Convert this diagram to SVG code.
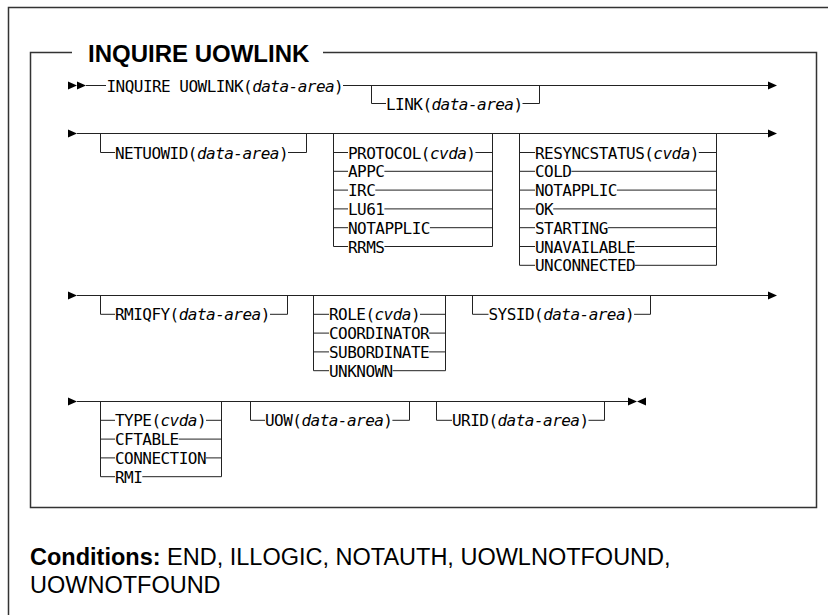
<svg xmlns="http://www.w3.org/2000/svg" width="828" height="615" viewBox="0 0 828 615">
<style>
.m{font-family:"DejaVu Sans Mono",monospace;font-size:16px;letter-spacing:-0.53px;fill:#000}
.i{font-style:italic}
.ln{fill:none;stroke:#222;stroke-width:1}
.ah{fill:#000;stroke:none}
.frame{fill:none;stroke:#333;stroke-width:1.5}
.title{font-family:"Liberation Sans",Arial,sans-serif;font-weight:bold;font-size:24px;fill:#000}
.cond{font-family:"Liberation Sans",Arial,sans-serif;font-size:23.5px;fill:#000}
</style>
<defs>
<polygon id="ar" class="ah" points="0,-4 9,0 0,4"/>
<polygon id="al" class="ah" points="9,-4 0,0 9,4"/>
</defs>
<rect width="828" height="615" fill="#fff"/>
<path class="frame" d="M8.5,615 V7.5 H828"/>
<path class="frame" d="M72,52.5 H30.5 V507.5 H816.5 V52.5 H323"/>
<text class="title" x="88" y="61.5">INQUIRE UOWLINK</text>

<g id="connectors">
<!-- row 1 -->
<use href="#ar" x="68" y="85.5"/><use href="#ar" x="77" y="85.5"/>
<path class="ln" d="M86,85.5 H106"/>
<path class="ln" d="M343,85.5 H768"/>
<use href="#ar" x="768" y="85.5"/>
<path class="ln" d="M371.5,85.5 V103.5 H386"/>
<path class="ln" d="M522.5,103.5 H539.5 V85.5"/>
<!-- row 2 -->
<use href="#ar" x="68" y="133.5"/>
<path class="ln" d="M77,133.5 H768"/>
<use href="#ar" x="768" y="133.5"/>
<path class="ln" d="M100.5,133.5 V152.5 H115"/>
<path class="ln" d="M288,152.5 H306.5 V133.5"/>
<path class="ln" d="M333.5,133.5 V246.5 M492.5,133.5 V246.5"/>
<path class="ln" d="M333.5,152.5 H348 M475.4,152.5 H492.5 M333.5,171.3 H348 M384.4,171.3 H492.5 M333.5,190.1 H348 M375.3,190.1 H492.5 M333.5,208.9 H348 M384.4,208.9 H492.5 M333.5,227.7 H348 M429.9,227.7 H492.5 M333.5,246.5 H348 M384.4,246.5 H492.5"/>
<path class="ln" d="M519.5,133.5 V265.3 M716.5,133.5 V265.3"/>
<path class="ln" d="M519.5,152.5 H535 M698.8,152.5 H716.5 M519.5,171.3 H535 M571.4,171.3 H716.5 M519.5,190.1 H535 M616.9,190.1 H716.5 M519.5,208.9 H535 M553.2,208.9 H716.5 M519.5,227.7 H535 M607.8,227.7 H716.5 M519.5,246.5 H535 M635.1,246.5 H716.5 M519.5,265.3 H535 M635.1,265.3 H716.5"/>
<!-- row 3 -->
<use href="#ar" x="68" y="295.5"/>
<path class="ln" d="M77,295.5 H768"/>
<use href="#ar" x="768" y="295.5"/>
<path class="ln" d="M100.5,295.5 V314.3 H115"/>
<path class="ln" d="M270,314.3 H287.5 V295.5"/>
<path class="ln" d="M313.5,295.5 V370.7 M445.5,295.5 V370.7"/>
<path class="ln" d="M313.5,314.3 H329 M420,314.3 H445.5 M313.5,333.1 H329 M429.1,333.1 H445.5 M313.5,351.9 H329 M429.1,351.9 H445.5 M313.5,370.7 H329 M392.7,370.7 H445.5"/>
<path class="ln" d="M472.5,295.5 V314.3 H488.5"/>
<path class="ln" d="M634.1,314.3 H650.5 V295.5"/>
<!-- row 4 -->
<use href="#ar" x="68" y="401.5"/>
<path class="ln" d="M77,401.5 H628"/>
<use href="#ar" x="628" y="401.5"/><use href="#al" x="637" y="401.5"/>
<path class="ln" d="M100.5,401.5 V476.7 M221.5,401.5 V476.7"/>
<path class="ln" d="M100.5,420.3 H115 M206,420.3 H221.5 M100.5,439.1 H115 M178.7,439.1 H221.5 M100.5,457.9 H115 M206,457.9 H221.5 M100.5,476.7 H115 M142.3,476.7 H221.5"/>
<path class="ln" d="M250.5,401.5 V420.3 H265"/>
<path class="ln" d="M392.4,420.3 H409.5 V401.5"/>
<path class="ln" d="M436.5,401.5 V420.3 H452"/>
<path class="ln" d="M588.5,420.3 H604.5 V401.5"/>
</g>

<g id="n-inquire"><text class="m" x="106.5" y="91.5">INQUIRE UOWLINK(<tspan class="i">data-area</tspan>)</text></g>
<g id="n-link"><text class="m" x="386" y="109.5">LINK(<tspan class="i">data-area</tspan>)</text></g>
<g id="n-netuowid"><text class="m" x="115" y="158.5">NETUOWID(<tspan class="i">data-area</tspan>)</text></g>
<g id="n-protocol">
<text class="m" x="348" y="158.5">PROTOCOL(<tspan class="i">cvda</tspan>)</text>
<text class="m" x="348" y="177.3">APPC</text>
<text class="m" x="348" y="196.1">IRC</text>
<text class="m" x="348" y="214.9">LU61</text>
<text class="m" x="348" y="233.7">NOTAPPLIC</text>
<text class="m" x="348" y="252.5">RRMS</text>
</g>
<g id="n-resyncstatus">
<text class="m" x="535" y="158.5">RESYNCSTATUS(<tspan class="i">cvda</tspan>)</text>
<text class="m" x="535" y="177.3">COLD</text>
<text class="m" x="535" y="196.1">NOTAPPLIC</text>
<text class="m" x="535" y="214.9">OK</text>
<text class="m" x="535" y="233.7">STARTING</text>
<text class="m" x="535" y="252.5">UNAVAILABLE</text>
<text class="m" x="535" y="271.3">UNCONNECTED</text>
</g>
<g id="n-rmiqfy"><text class="m" x="115" y="320.3">RMIQFY(<tspan class="i">data-area</tspan>)</text></g>
<g id="n-role">
<text class="m" x="329" y="320.3">ROLE(<tspan class="i">cvda</tspan>)</text>
<text class="m" x="329" y="339.1">COORDINATOR</text>
<text class="m" x="329" y="357.9">SUBORDINATE</text>
<text class="m" x="329" y="376.7">UNKNOWN</text>
</g>
<g id="n-sysid"><text class="m" x="488.5" y="320.3">SYSID(<tspan class="i">data-area</tspan>)</text></g>
<g id="n-type">
<text class="m" x="115" y="426.3">TYPE(<tspan class="i">cvda</tspan>)</text>
<text class="m" x="115" y="445.1">CFTABLE</text>
<text class="m" x="115" y="463.9">CONNECTION</text>
<text class="m" x="115" y="482.7">RMI</text>
</g>
<g id="n-uow"><text class="m" x="265" y="426.3">UOW(<tspan class="i">data-area</tspan>)</text></g>
<g id="n-urid"><text class="m" x="452" y="426.3">URID(<tspan class="i">data-area</tspan>)</text></g>

<g id="conditions">
<text class="cond" x="30" y="565"><tspan font-weight="bold">Conditions:</tspan> END, ILLOGIC, NOTAUTH, UOWLNOTFOUND,</text>
<text class="cond" x="30" y="593">UOWNOTFOUND</text>
</g>
</svg>
